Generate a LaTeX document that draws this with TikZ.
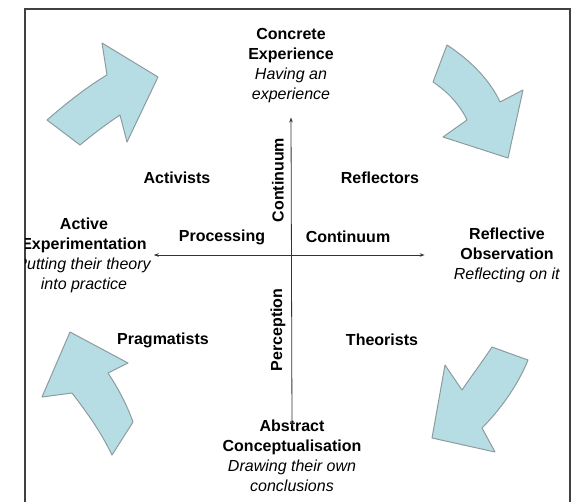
\documentclass[tikz,border=0pt]{standalone}
\usepackage{fontspec}
\setmainfont{Liberation Sans}
\usetikzlibrary{arrows.meta}
\definecolor{arrowblue}{RGB}{183,221,228}
\definecolor{arrowedge}{RGB}{140,156,158}
\definecolor{framegray}{RGB}{64,64,64}
\begin{document}
\begin{tikzpicture}[x=1pt,y=-1pt,
  stage/.style={align=center,inner sep=0pt,font=\fontsize{16}{20}\selectfont},
  group/.style={inner sep=0pt,font=\fontsize{16}{20}\selectfont\bfseries},
  turn/.style={fill=arrowblue,draw=arrowedge,line width=1pt,line join=round},
  axis/.style={line width=0.8pt,draw=black!80,{Stealth[length=5pt,width=3.5pt]}-{Stealth[length=5pt,width=3.5pt]}}]
  \useasboundingbox (0,0) rectangle (578,501);
  \draw[framegray,line width=1.4pt] (25,520) -- (25,9) -- (570,9) -- (570,520);

  % the four cycle arrows
  \draw[turn] (47,120) .. controls (70,100) and (90,85) .. (107,75) -- (102,43) -- (158,77) -- (127,142)
    -- (120,115) .. controls (105,125) and (92,135) .. (80,145) -- cycle;
  \draw[turn] (447,45) .. controls (470,60) and (490,80) .. (500,102) -- (523,90) -- (508,158) -- (443,137)
    -- (467,120) .. controls (460,105) and (448,92) .. (433,82) -- cycle;
  \draw[turn] (492,347) .. controls (480,365) and (470,378) .. (462,390) -- (445,365) -- (432,438) -- (495,452)
    -- (482,428) .. controls (500,410) and (518,385) .. (528,360) -- cycle;
  \draw[turn] (112,455) .. controls (100,430) and (85,410) .. (72,393) -- (42,397) -- (70,332) -- (128,363)
    -- (108,373) .. controls (118,388) and (127,405) .. (133,422) -- cycle;

  \begin{scope}
  \clip (25,9) rectangle (570,501);
  \node[stage] (concrete) at (291,66) {\textbf{Concrete}\\\textbf{Experience}\\\textit{Having an}\\\textit{experience}};
  \node[stage] (active) at (84,255) {\textbf{Active}\\\textbf{Experimentation}\\\textit{Putting their theory}\\\textit{into practice}};
  \node[stage] (reflective) at (507,255) {\textbf{Reflective}\\\textbf{Observation}\\\textit{Reflecting on it}};
  \node[stage] (abstract) at (292,456) {\textbf{Abstract}\\\textbf{Conceptualisation}\\\textit{Drawing their own}\\\textit{conclusions}};
  \end{scope}

  \node[group] (activists) at (177,178) {Activists};
  \node[group] (reflectors) at (380,178) {Reflectors};
  \node[group] (pragmatists) at (163,340) {Pragmatists};
  \node[group] (theorists) at (382,340) {Theorists};

  \node[group] (processing) at (222,237) {Processing};
  \node[group] (continuumh) at (348,237) {Continuum};
  \node[group,rotate=90] (continuumv) at (278,180) {Continuum};
  \node[group,rotate=90] (perception) at (278,330) {Perception};

  \draw[axis] ([yshift=-14pt]concrete.south) -- ([yshift=-6pt]abstract.north);
  \draw[axis] ([xshift=2pt]active.east) -- ([xshift=-29pt]reflective.west);
\end{tikzpicture}
\end{document}
